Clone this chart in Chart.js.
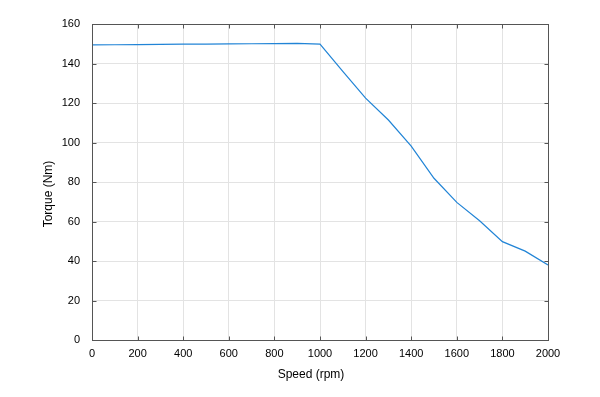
<!DOCTYPE html>
<html>
<head>
<meta charset="utf-8">
<script src="https://cdn.jsdelivr.net/npm/chart.js@4"></script>
<style>
html,body{margin:0;padding:0;background:#fff;}
#wrap{width:600px;height:397px;position:relative;}
</style>
</head>
<body>
<div id="wrap"><canvas id="c" width="600" height="397"></canvas></div>
<script>
const speed = [0, 100, 200, 300, 400, 500, 600, 700, 800, 900, 1000, 1100, 1200, 1300, 1400, 1500, 1600, 1700, 1800, 1900, 2000];
const torque = [149.4, 149.5, 149.6, 149.7, 149.8, 149.8, 149.9, 150.0, 150.1, 150.2, 149.8, 136, 122.5, 111.4, 98.2, 81.9, 69.7, 60.4, 49.8, 45.0, 38.0];
const xTicks = [0, 200, 400, 600, 800, 1000, 1200, 1400, 1600, 1800, 2000];
const yTicks = [0, 20, 40, 60, 80, 100, 120, 140, 160];
const xTitle = 'Speed (rpm)';
const yTitle = 'Torque (Nm)';

const axisColor = '#555555';
const font = 'Liberation Sans, Arial, sans-serif';
const boxPlugin = {
  id: 'box',
  afterDraw(chart) {
    const {ctx, chartArea: a, scales} = chart;
    ctx.save();
    ctx.strokeStyle = axisColor;
    ctx.lineWidth = 1;
    const L = Math.round(a.left) + 0.5, R = Math.round(a.right) + 0.5;
    const T = Math.round(a.top) + 0.5, B = Math.round(a.bottom) + 0.5;
    ctx.strokeRect(L, T, R - L, B - T);
    const tl = 4;
    ctx.beginPath();
    xTicks.forEach(v => {
      const x = Math.round(scales.x.getPixelForValue(v)) + 0.5;
      ctx.moveTo(x, B); ctx.lineTo(x, B - tl);
      ctx.moveTo(x, T); ctx.lineTo(x, T + tl);
    });
    yTicks.forEach(v => {
      const y = Math.round(scales.y.getPixelForValue(v)) + 0.5;
      ctx.moveTo(L, y); ctx.lineTo(L + tl, y);
      ctx.moveTo(R, y); ctx.lineTo(R - tl, y);
    });
    ctx.stroke();
    // axis titles
    ctx.fillStyle = '#000';
    ctx.font = '12px ' + font;
    ctx.textAlign = 'center';
    ctx.textBaseline = 'middle';
    ctx.fillText(xTitle, (a.left + a.right) / 2 - 9, 375);
    ctx.translate(49, (a.top + a.bottom) / 2 + 12);
    ctx.rotate(-Math.PI / 2);
    ctx.fillText(yTitle, 0, 0);
    ctx.restore();
  }
};

new Chart(document.getElementById('c'), {
  type: 'line',
  data: {
    datasets: [{
      data: speed.map((s, i) => ({x: s, y: torque[i]})),
      borderColor: '#2184d6',
      borderWidth: 1.2,
      pointRadius: 0,
      tension: 0,
      fill: false
    }]
  },
  plugins: [boxPlugin],
  options: {
    responsive: false,
    animation: false,
    events: [],
    layout: {padding: {top: 24, right: 52, left: 0, bottom: 0}},
    plugins: {legend: {display: false}, tooltip: {enabled: false}},
    scales: {
      x: {
        type: 'linear', min: 0, max: 2000,
        afterBuildTicks(s) { s.ticks = xTicks.map(v => ({value: v})); },
        afterFit(s) { s.height = 57; },
        grid: {color: '#e3e3e3', drawTicks: false, lineWidth: 1},
        border: {display: false},
        ticks: {color: '#000', font: {family: font, size: 11}, padding: 7, maxRotation: 0, callback: v => String(v)},
        title: {display: false}
      },
      y: {
        min: 0, max: 160,
        afterBuildTicks(s) { s.ticks = yTicks.map(v => ({value: v})); },
        afterFit(s) { s.width = 92; },
        grid: {color: '#e3e3e3', drawTicks: false, lineWidth: 1},
        border: {display: false},
        ticks: {color: '#000', font: {family: font, size: 11}, padding: 12, callback: v => String(v)},
        title: {display: false}
      }
    }
  }
});
</script>
</body>
</html>
